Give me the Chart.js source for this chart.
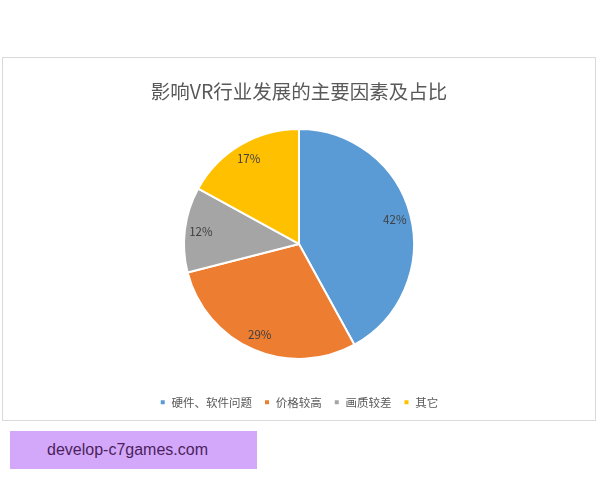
<!DOCTYPE html>
<html>
<head>
<meta charset="utf-8">
<script src="https://cdn.jsdelivr.net/npm/chart.js@4/dist/chart.umd.min.js"></script>
<style>
  html, body { margin: 0; padding: 0; background: #fff; }
  body { width: 600px; height: 480px; position: relative; overflow: hidden; }
  #box {
    position: absolute; left: 2px; top: 57px; width: 594px; height: 364px;
    border: 1px solid #d9d9d9; box-sizing: border-box;
  }
  #mark {
    position: absolute; left: 10px; top: 431px; width: 247px; height: 38px;
    background: #d3a8fb; color: #4b1f5c;
    font: 16px "Liberation Sans", Arial, sans-serif;
    line-height: 38px; padding-left: 37px; box-sizing: border-box;
  }
</style>
</head>
<body>
<div id="box"><canvas id="pie"></canvas></div>
<div id="mark">develop-c7games.com</div>
<script>
const categories = ["硬件、软件问题", "价格较高", "画质较差", "其它"];
const shares = [42, 29, 12, 17];
const sliceColors = ["#5b9bd5", "#ed7d31", "#a5a5a5", "#ffc000"];

const cjk = '"Noto Sans CJK SC", "Microsoft YaHei", sans-serif';

// percent labels inside each slice, roughly where Excel puts them
const sliceLabels = {
  id: "sliceLabels",
  afterDatasetsDraw(chart) {
    const ctx = chart.ctx;
    const meta = chart.getDatasetMeta(0);
    ctx.save();
    ctx.font = '11.5px ' + cjk;
    ctx.fillStyle = "#404040";
    ctx.textAlign = "center";
    ctx.textBaseline = "middle";
    meta.data.forEach((arc, i) => {
      const mid = (arc.startAngle + arc.endAngle) / 2;
      const r = arc.outerRadius * 0.86;
      ctx.fillText(shares[i] + "%", arc.x + Math.cos(mid) * r, arc.y + Math.sin(mid) * r);
    });
    ctx.restore();
  }
};

new Chart(document.getElementById("pie"), {
  type: "pie",
  data: {
    labels: categories,
    datasets: [{
      data: shares,
      backgroundColor: sliceColors,
      borderColor: "#ffffff",
      borderWidth: 2,
      radius: 115
    }]
  },
  options: {
    responsive: true,
    maintainAspectRatio: false,
    animation: false,
    layout: { padding: { bottom: 2 } },
    plugins: {
      title: {
        display: true,
        text: "影响VR行业发展的主要因素及占比",
        color: "#595959",
        font: { family: cjk, size: 19.5, weight: "normal" },
        padding: { top: 22, bottom: 0 }
      },
      legend: {
        position: "bottom",
        labels: {
          color: "#595959",
          font: { family: cjk, size: 11.5 },
          boxWidth: 6,
          boxHeight: 6,
          padding: 12
        }
      },
      tooltip: { enabled: false }
    }
  },
  plugins: [sliceLabels]
});
</script>
</body>
</html>
